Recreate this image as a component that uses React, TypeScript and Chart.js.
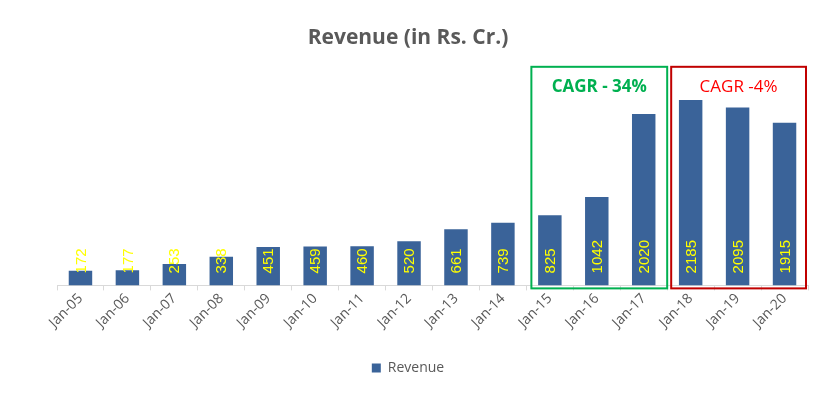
import React, { useEffect, useRef } from "react";
import { Chart, registerables } from "chart.js";

Chart.register(...registerables);

const categories = ["Jan-05","Jan-06","Jan-07","Jan-08","Jan-09","Jan-10","Jan-11","Jan-12","Jan-13","Jan-14","Jan-15","Jan-16","Jan-17","Jan-18","Jan-19","Jan-20"];
const revenue = [172,177,253,338,451,459,460,520,661,739,825,1042,2020,2185,2095,1915];
const boxFrom = [10, 13];
const boxTo = [12, 15];
const boxLabels = ["CAGR - 34%", "CAGR -4%"];
const boxTop = 2575;
const boxTextValue = 2340;

const BAR = "#3A6399";

const labelPlugin = {
  id: "barLabels",
  afterDatasetsDraw(chart: any) {
    const ctx = chart.ctx;
    const meta = chart.getDatasetMeta(0);
    const yScale = chart.scales.y;
    const base = yScale.getPixelForValue(0);
    ctx.save();
    ctx.fillStyle = "#FFFF00";
    ctx.font = "15px 'Liberation Sans', Arial, sans-serif";
    ctx.textAlign = "left";
    ctx.textBaseline = "middle";
    meta.data.forEach((el: any, i: number) => {
      ctx.save();
      ctx.translate(el.x + 1, base - 12);
      ctx.rotate(-Math.PI / 2);
      ctx.fillText(String(revenue[i]), 0, 0);
      ctx.restore();
    });
    ctx.restore();
  },
};

const boxPlugin = {
  id: "cagrBoxes",
  afterDatasetsDraw(chart: any) {
    const ctx = chart.ctx;
    const x = chart.scales.x;
    const y = chart.scales.y;
    const half = (x.getPixelForValue(1) - x.getPixelForValue(0)) / 2;
    const top = y.getPixelForValue(boxTop);
    const bottom = y.getPixelForValue(0) + 3;
    const textY = y.getPixelForValue(boxTextValue);
    const styles = [
      { stroke: "#00B050", text: "#00B050", font: "bold 17px 'Open Sans', sans-serif", l: 5, r: 0 },
      { stroke: "#C00000", text: "#FF0000", font: "17px 'Open Sans', sans-serif", l: 4, r: -2 },
    ];
    ctx.save();
    boxFrom.forEach((f, i) => {
      const s = styles[i];
      const left = x.getPixelForValue(f) - half + s.l;
      const right = x.getPixelForValue(boxTo[i]) + half + s.r;
      ctx.strokeStyle = s.stroke;
      ctx.lineWidth = 2;
      ctx.strokeRect(left, top, right - left, bottom - top);
      ctx.fillStyle = s.text;
      ctx.font = s.font;
      ctx.textAlign = "center";
      ctx.textBaseline = "middle";
      ctx.fillText(boxLabels[i], (left + right) / 2, textY);
    });
    ctx.restore();
  },
};

export default function App() {
  const ref = useRef<HTMLCanvasElement>(null);
  useEffect(() => {
    const chart = new Chart(ref.current!, {
      type: "bar",
      data: {
        labels: categories,
        datasets: [
          {
            label: "Revenue",
            data: revenue,
            backgroundColor: BAR,
            barPercentage: 0.5,
            categoryPercentage: 1,
          },
        ],
      },
      options: {
        animation: false,
        responsive: true,
        maintainAspectRatio: false,
        layout: { padding: { left: 8, right: 10, top: 0, bottom: 13 } },
        plugins: {
          title: {
            display: true,
            text: "Revenue (in Rs. Cr.)",
            color: "#595959",
            font: { family: "'Open Sans', sans-serif", size: 21, weight: "bold" },
            padding: { top: 25, bottom: 6 },
          },
          legend: {
            position: "bottom",
            labels: {
              color: "#595959",
              font: { family: "'Open Sans', sans-serif", size: 14 },
              boxWidth: 9,
              boxHeight: 9,
              padding: 30,
            },
          },
          tooltip: { enabled: false },
        },
        scales: {
          x: {
            grid: { display: true, drawOnChartArea: false, drawTicks: true, tickLength: 5, offset: true, color: "#D9D9D9" },
            border: { color: "#D9D9D9" },
            ticks: {
              color: "#595959",
              font: { family: "'Open Sans', sans-serif", size: 14 },
              minRotation: 45,
              maxRotation: 45,
              padding: 0,
            },
          },
          y: {
            display: true,
            min: 0,
            max: 2700,
            grid: { display: false },
            border: { display: false },
            ticks: { display: false },
            afterFit: (s: any) => {
              s.width = 49;
            },
          },
        },
      },
      plugins: [labelPlugin, boxPlugin],
    });
    return () => chart.destroy();
  }, []);
  return (
    <div style={{ position: "absolute", left: 0, top: 0, width: 818, height: 398 }}>
      <canvas ref={ref} />
    </div>
  );
}
